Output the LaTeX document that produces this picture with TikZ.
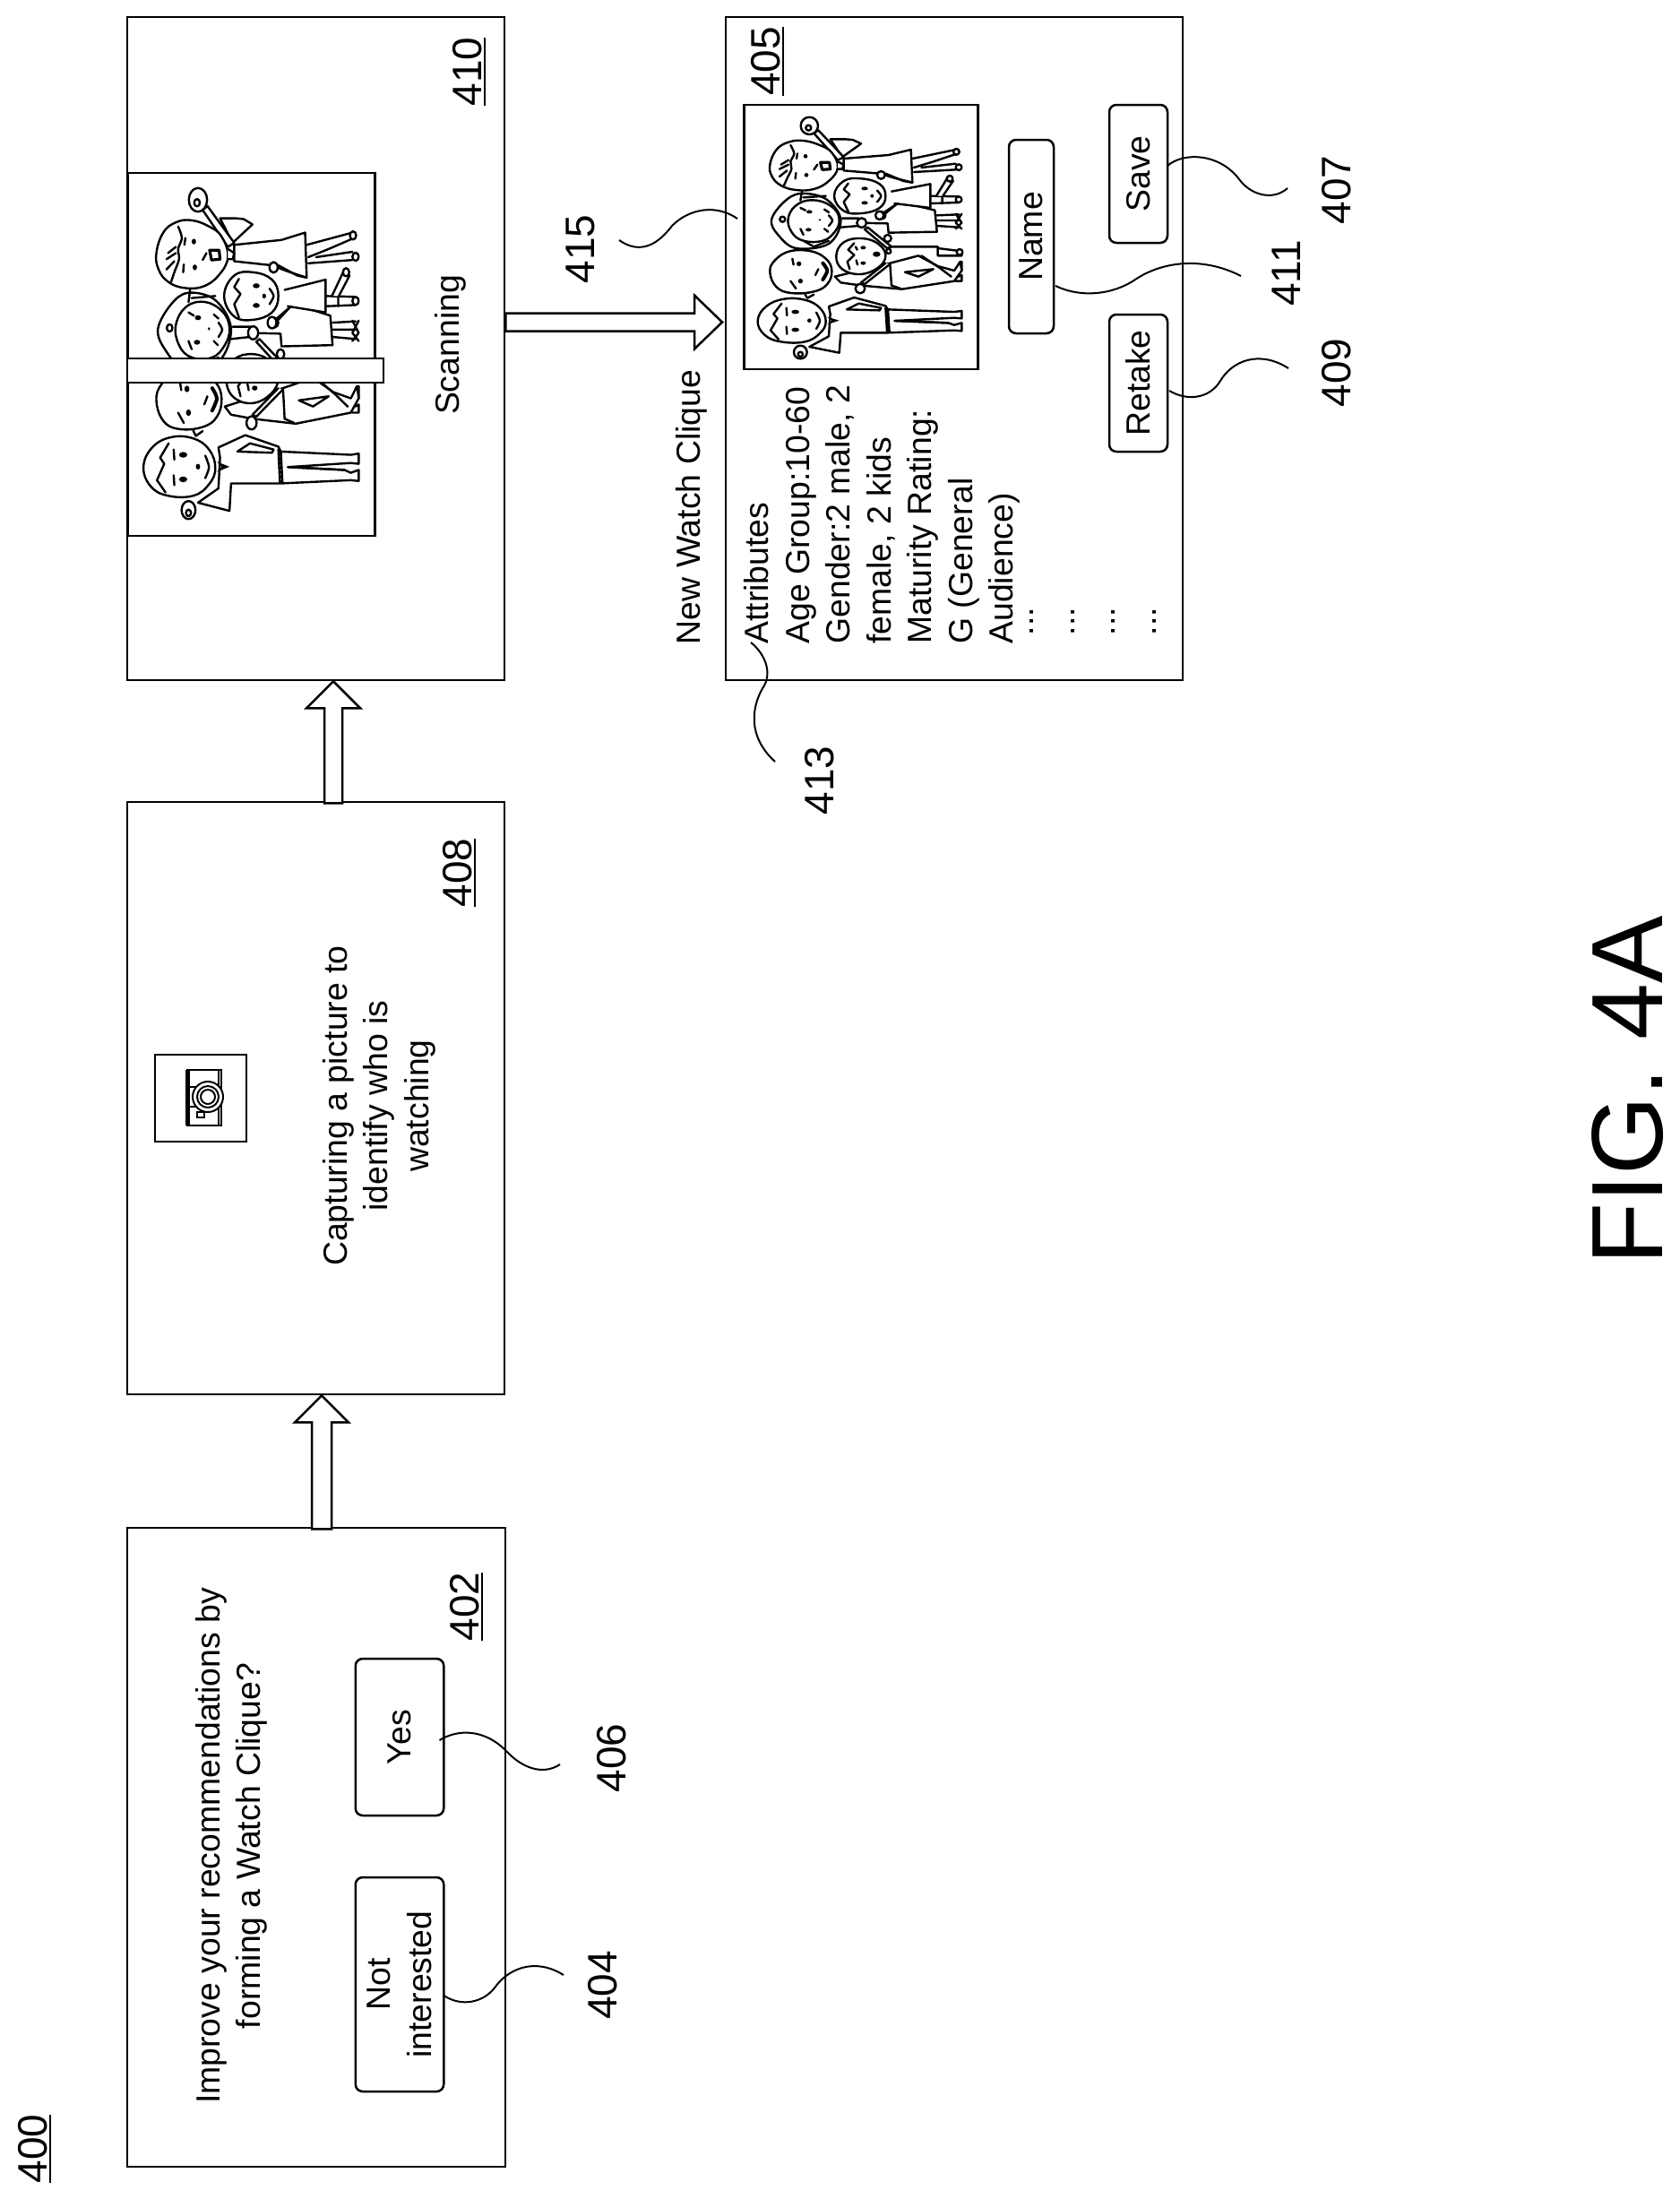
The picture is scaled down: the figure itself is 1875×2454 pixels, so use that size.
\documentclass[tikz,border=0pt]{standalone}
\usepackage{fontspec}
\setmainfont{Liberation Sans}
\newcommand{\txtfont}{\fontsize{18.7}{22.75}\selectfont}
\newcommand{\numfont}{\fontsize{23}{27}\selectfont}
\newcommand{\ulnum}[1]{\setbox0=\hbox{#1}\rlap{\rule[-.11em]{\wd0}{.055em}}\box0}
\tikzset{
  frame/.style={draw=black,line width=1.25pt,fill=white,inner sep=0pt,rectangle},
  btn/.style={frame,rotate=90,rounded corners=4pt,align=center,font=\txtfont},
  txt/.style={rotate=90,inner sep=0pt,anchor=base,font=\txtfont},
  mtxt/.style={rotate=90,inner sep=0pt,align=center,font=\txtfont},
  num/.style={rotate=90,inner sep=0pt,anchor=base,font=\numfont},
  leader/.style={draw=black,line width=1pt},
  hollow/.style={draw=black,line width=1.25pt,fill=white,line join=miter},
  pl/.style={line width=1.2pt,line join=round,line cap=round},
}
% family sketch, traced in a 810 x 915 frame
\newcommand{\familysketch}{%
\begin{scope}[pl]
% woman 2 hair and body
\draw[fill=white] plot[smooth cycle,tension=.6] coordinates {(205,312)(150,340)(108,400)(130,450)(190,495)(300,480)(340,400)(290,330)};
\draw[fill=white] (210,305)--(205,335) (215,325)--(290,320);
\draw[fill=white] (490,378)--(530,345)--(590,352)--(655,368)--(662,440)--(500,443)--(497,412)--(400,410);
\draw (662,385)--(735,382) (662,402)--(735,402) (662,420)--(735,425) (725,380)--(745,410)--(725,430) (745,380)--(725,410)--(745,430);
\draw[fill=white] (478,385) circle (12);
% man 3 lower body
\draw[fill=white] (505,490)--(665,490)--(665,520)--(745,520)--(745,505)--(665,495);
\draw[fill=white] (505,545)--(600,520)--(665,555)--(720,570)--(740,540)--(745,570)--(720,605)--(545,632)--(410,620)--(340,610)--(320,590)--cycle;
\draw (555,575)--(650,565)--(600,590)--cycle;
\draw (610,520)--(670,560)--(710,590);
\draw[fill=white] (738,508) circle (10);
\draw (735,545)--(745,540)--(745,570) (735,590)--(745,585)--(745,605)--(725,605);
% man 3 head
\draw[fill=white] (215,640)--(228,662)--(250,650);
\draw[fill=white] plot[smooth cycle,tension=.7] coordinates {(310,570)(290,530)(240,505)(170,505)(120,535)(103,575)(125,625)(175,645)(250,640)(295,615)};
\fill (200,547) circle (8) (205,605) circle (8);
\draw (178,530)--(182,550) (172,605)--(190,630);
\draw[line width=2pt] plot[smooth] coordinates {(280,545)(295,570)(280,600)};
\draw (255,585)--(265,565);
% woman 1
\draw[fill=white] (305,130)--(355,130)--(380,132)--(408,145)--(380,165)--(345,190)--cycle;
\draw[fill=white] (350,195)--(500,183)--(575,165)--(580,275)--(520,260)--(470,245)--(350,235)--cycle;
\draw (580,195)--(725,165) (585,225)--(650,205)--(725,180) (585,240)--(725,232) (610,225)--(725,212);
\draw[fill=white] (727,172) circle (10) (735,224) circle (10);
\draw[fill=white] (350,190)--(265,100)--(250,110)--(330,200)--cycle;
\draw[fill=white] (235,85) circle (29);
\draw[fill=white] (232,92) circle (9);
\draw[fill=white] plot[smooth cycle,tension=.7] coordinates {(330,225)(310,175)(270,150)(215,135)(165,140)(125,165)(103,215)(110,255)(140,285)(190,300)(250,297)(300,270)};
\draw plot[smooth,tension=.5] coordinates {(172,150)(184,178)(172,205)(175,230)(160,262)(150,285)};
\draw (165,200)--(140,215) (165,215)--(135,230) (160,235)--(135,255);
\draw (195,178)--(192,195) (190,243)--(188,262) (262,215)--(250,232);
\fill (222,187) circle (7) (225,250) circle (7);
\draw[fill=white,line width=1.6pt] (272,208)--(302,208)--(305,230)--(278,232)--cycle;
\draw[fill=white] (330,205)--(350,215)--(345,230)--(330,230);
% child 1
\draw[fill=white] (510,305)--(640,280)--(640,360)--(520,345);
\draw (640,320)--(735,322) (640,345)--(735,342) (680,320)--(680,345);
\draw[fill=white] (660,320)--(698,258)--(716,270)--(682,320);
\draw[fill=white] (735,332) circle (10) (705,262) circle (10);
\draw (490,245)--(550,270)--(580,275);
\draw[fill=white] (475,250) circle (13);
\draw[fill=white] (470,385) circle (14);
\draw (485,375)--(530,345);
\draw[fill=white] plot[smooth cycle,tension=.7] coordinates {(490,320)(470,280)(410,262)(350,270)(318,320)(350,370)(410,378)(470,360)};
\draw plot coordinates {(365,278)(350,298)(370,315)(350,340)(365,372)};
\fill (420,295) ellipse (11 and 6) (420,343) ellipse (11 and 6) (445,320) circle (6);
\draw plot[smooth] coordinates {(462,302)(475,320)(462,340)};
% woman 2 face
\draw[fill=white] plot[smooth cycle,tension=.7] coordinates {(335,400)(315,360)(260,335)(200,345)(165,390)(175,440)(215,470)(280,470)(320,440)};
\draw[fill=white] (145,398) circle (9);
\draw (215,470)--(250,490)--(300,470);
\fill (235,373) ellipse (10 and 6) (232,433) ellipse (10 and 6);
\draw (205,360)--(222,368) (205,430)--(215,450) (285,365)--(300,375) (285,430)--(298,440);
\draw plot[smooth] coordinates {(300,385)(312,402)(300,420)};
\fill (270,400) circle (4);
% crossed arms
\draw[fill=white] (345,395)--(400,395)--(415,400) (340,425)--(400,420);
\draw[fill=white] (430,425)--(510,490)--(495,495)--(420,432)--cycle;
\draw[fill=white] (410,410) circle (16);
% child 2
\draw[fill=white] (497,462) circle (12);
\draw[fill=white] plot[smooth cycle,tension=.7] coordinates {(490,520)(465,480)(410,462)(350,475)(325,520)(345,565)(405,582)(465,560)};
\draw plot coordinates {(385,478)(365,500)(385,518)(362,540)(370,565)};
\fill (415,493) ellipse (9 and 6) (415,545) ellipse (9 and 6);
\fill (460,515) ellipse (13 and 9);
\draw (390,490)--(395,500) (392,535)--(396,550);
\draw[fill=white] (500,505) circle (8);
% man 3 arm
\draw[fill=white] (505,548)--(420,615)--(408,610)--(490,545);
\draw[fill=white] (505,548)--(510,620)--(540,630);
\draw[fill=white] (405,630) circle (16);
% man 4
\draw[fill=white] (305,715)--(300,690)--(385,660)--(490,688)--(498,700)--(720,708)--(745,705)--(745,730)--(720,728)--(520,738)--(700,745)--(720,752)--(745,745)--(745,772)--(720,770)--(495,778)--(340,778)--(335,845)--(235,825)--(300,790)--cycle;
\draw (490,695)--(495,775) (498,700)--(503,775);
\draw (360,700)--(400,680)--(475,695)--(470,703)--cycle;
\draw (522,738)--(700,745);
\draw[fill=white] (205,843) circle (22);
\draw (205,850) circle (8);
\draw[fill=white] plot[smooth cycle,tension=.7] coordinates {(290,740)(270,695)(220,668)(150,665)(90,690)(62,738)(85,785)(140,808)(220,808)(270,780)};
\draw plot coordinates {(142,680)(115,715)(128,730)(105,770)(132,800)};
\fill (188,708) ellipse (13 and 7) (188,768) ellipse (13 and 7) (235,737) circle (7);
\draw (158,695)--(160,720) (158,758)--(160,782);
\draw plot[smooth] coordinates {(258,710)(270,738)(258,765)};
\fill (295,725)--(335,737)--(295,750)--(310,737)--cycle;
\end{scope}}
\begin{document}
\begin{tikzpicture}[x=.5pt,y=-.5pt]
\useasboundingbox (0,0) rectangle (1875,2454);
% screens
\node[frame,minimum width=210.5pt,minimum height=370pt] (b410) at (352.5,389) {};
\node[frame,minimum width=210.5pt,minimum height=330.5pt] (b408) at (352.5,1225.5) {};
\node[frame,minimum width=211pt,minimum height=356.5pt] (b402) at (353,2061.5) {};
\node[frame,minimum width=255pt,minimum height=370pt] (b405) at (1065,389) {};
% pictures
\node[frame,minimum width=138pt,minimum height=202.5pt] (p410) at (280.5,395.5) {};
\begin{scope}[shift={(138.3,184.2)},x=.17585pt,y=-.22835pt]\familysketch\end{scope}
\node[frame,minimum width=143pt,minimum height=13.5pt] (scanbar) at (285,413.5) {};
\node[frame,minimum width=130.5pt,minimum height=147.5pt] (p405) at (961,264.5) {};
\begin{scope}[shift={(825,112)},x=.16667pt,y=-.16667pt]\familysketch\end{scope}
% camera
\node[frame,minimum width=51pt,minimum height=48.5pt] (cambox) at (224,1225.5) {};
\draw[line width=1pt] (209,1194) rectangle (247,1256);
\fill (207,1194) rectangle (212,1256);
\draw[line width=1pt] (212,1213) -- (228,1213) (212,1235) -- (228,1235) (244,1194) -- (244,1256);
\draw[line width=1pt,fill=white] (232,1224) circle (17);
\draw[line width=1pt] (232,1224) circle (12) (232,1224) circle (8);
\draw[line width=1pt,fill=white] (220,1241) rectangle (228,1247);
% buttons
\node[btn,minimum width=87.5pt,minimum height=49.25pt] (yes) at (446,1938.5) {Yes};
\node[btn,minimum width=119.5pt,minimum height=49.25pt] (notint) at (446,2214.5) {Not\\interested};
\node[btn,minimum width=77pt,minimum height=32.5pt] (save) at (1270.5,194) {Save};
\node[btn,minimum width=108pt,minimum height=25pt] (name) at (1151,264) {Name};
\node[btn,minimum width=76.5pt,minimum height=32.5pt] (retake) at (1270.5,427.5) {Retake};
% texts
\node[mtxt] (improve) at (258.5,2060) {Improve your recommendations by\\forming a Watch Clique?};
\node[mtxt] (capture) at (423,1234) {Capturing a picture to\\identify who is\\watching};
\node[txt] (scanning) at (512,385) {Scanning};
\node[txt] (newclique) at (781,566) {New Watch Clique};
\node[rotate=90,inner sep=0pt,align=left,anchor=north west,font=\txtfont] (attrs) at (830,719) {Attributes\\Age Group:10-60\\Gender:2 male, 2\\female, 2 kids\\Maturity Rating:\\G (General\\Audience)\\\hspace*{.25em}\raisebox{.6em}{...}\\\hspace*{.25em}\raisebox{.6em}{...}\\\hspace*{.25em}\raisebox{.6em}{...}\\\hspace*{.25em}\raisebox{.6em}{...}};
% reference numbers
\node[num] (n400) at (52,2398) {\ulnum{400}};
\node[num] (n402) at (534,1793) {\ulnum{402}};
\node[num] (n408) at (526,974) {\ulnum{408}};
\node[num] (n410) at (537,80) {\ulnum{410}};
\node[num] (n405) at (870,68.5) {\ulnum{405}};
\node[num] (n404) at (688,2215.5) {404};
\node[num] (n406) at (698,1962) {406};
\node[num] (n415) at (663,278) {415};
\node[num] (n413) at (930,871) {413};
\node[num] (n407) at (1507,212) {407};
\node[num] (n411) at (1451,305) {411};
\node[num] (n409) at (1507,416) {409};
\node[rotate=90,inner sep=0pt,anchor=base,font=\fontsize{56.5}{60}\selectfont] (figlabel) at (1855,1217) {FIG. 4A};
% hollow arrows
\coordinate (axa) at (359,0);
\coordinate (axb) at (372,0);
\coordinate (axc) at (0,359.5);
\draw[hollow] (axa |- b408.south) -- ++(30,30) -- ++(-19,0) -- ++(0,119) -- ++(-22,0) -- ++(0,-119) -- ++(-19,0) -- cycle;
\draw[hollow] (axb |- b410.south) -- ++(30,30) -- ++(-20,0) -- ++(0,106) -- ++(-20,0) -- ++(0,-106) -- ++(-20,0) -- cycle;
\draw[hollow] (806,359.5) -- ++(-31,-30) -- ++(0,20) -- (b410.east |- 0,349.5) -- (b410.east |- 0,369.5) -- (775,369.5) -- ++(0,20) -- cycle;
% leaders
\coordinate (lyes) at (490.5,1942); \coordinate (e406) at (625,1969);
\coordinate (lnot) at (495.5,2227); \coordinate (e404) at (629,2204);
\coordinate (lpic) at (823,244);    \coordinate (e415) at (691,268);
\coordinate (lsave) at (1303,185);  \coordinate (e407) at (1437,210);
\coordinate (lname) at (1178,319);  \coordinate (e411) at (1385,308);
\coordinate (lret) at (1305,436);   \coordinate (e409) at (1438,411);
\coordinate (lattr) at (838,717);   \coordinate (e413) at (865,850);
\draw[leader] (lyes) .. controls (510,1930) and (540,1928) .. (566,1955) .. controls (582,1972) and (605,1982) .. (e406);
\draw[leader] (lnot) .. controls (515,2240) and (540,2235) .. (553,2217) .. controls (566,2199) and (595,2183) .. (e404);
\draw[leader] (lpic) .. controls (800,228) and (770,232) .. (750,252) .. controls (735,272) and (715,285) .. (e415);
\draw[leader] (lsave) .. controls (1320,170) and (1360,170) .. (1383,200) .. controls (1395,217) and (1420,225) .. (e407);
\draw[leader] (lname) .. controls (1205,332) and (1240,330) .. (1267,312) .. controls (1295,293) and (1340,285) .. (e411);
\draw[leader] (lret) .. controls (1325,448) and (1350,445) .. (1362,425) .. controls (1375,403) and (1405,390) .. (e409);
\draw[leader] (lattr) .. controls (852,728) and (862,748) .. (853,765) .. controls (840,785) and (832,820) .. (e413);
\end{tikzpicture}
\end{document}
